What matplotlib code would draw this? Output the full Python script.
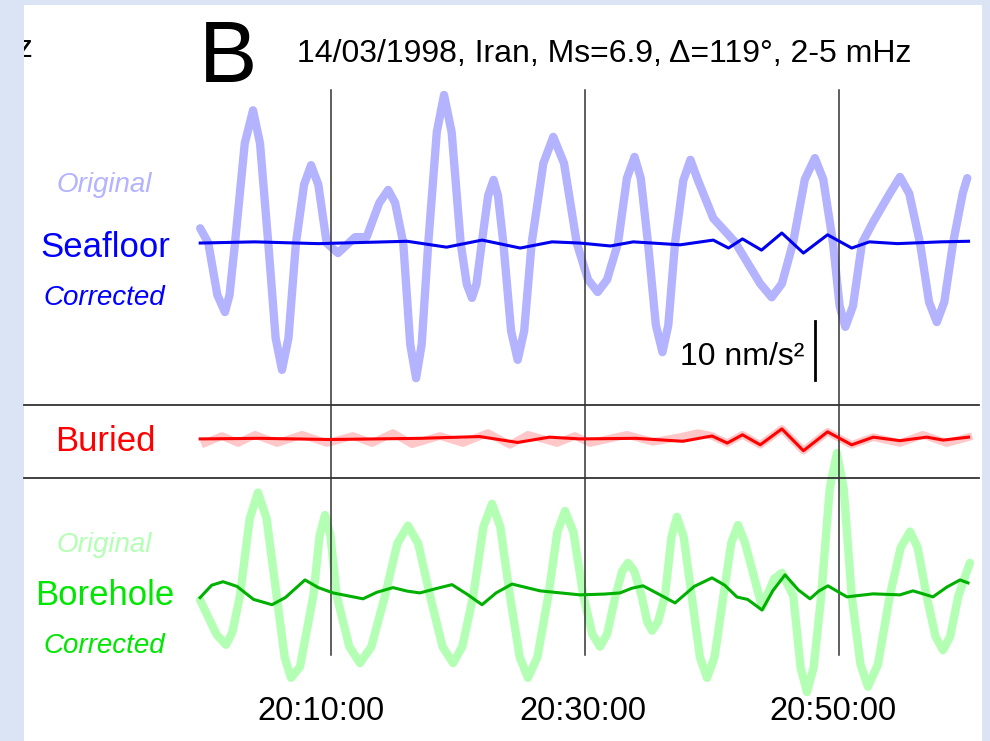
import matplotlib.pyplot as plt
from matplotlib.patches import Rectangle
import numpy as np

plt.rcParams['font.family'] = ['Liberation Sans', 'DejaVu Sans']

sea_orig_t = [-0.3, 0.34, 1.05, 1.65, 2.01, 2.44, 3.21, 3.86, 4.41, 5.06, 5.64, 6.14,
              6.65, 7.24, 7.88, 8.43, 9.0, 9.66, 10.55, 11.9, 12.8, 13.8, 14.5, 15.05,
              15.69, 16.24, 16.7, 17.14, 17.66, 18.33, 18.9, 19.5, 20.21, 20.69, 21.1,
              21.45, 21.87, 22.37, 22.8, 23.15, 23.57, 24.18, 24.7, 25.21, 25.8, 26.72,
              27.5, 28.35, 29.35, 30.24, 31.0, 31.74, 32.6, 33.3, 33.9, 34.39, 34.96,
              35.58, 36.1, 36.56, 37.09, 37.74, 38.3, 38.9, 40.1, 41.8, 43.8, 44.7,
              45.5, 46.38, 47.31, 48.1, 48.76, 49.53, 50.05, 50.5, 51.1, 51.81, 52.7,
              54.0, 54.8, 55.53, 56.38, 57.09, 57.7, 58.29, 58.98, 59.75, 60.1]
sea_orig_v = [2.5, 0, -8.8, -11.7, -8.8, 0, 16.9, 22.5, 16.9, 0, -16.1, -21.5,
              -16.1, 0, 9.9, 13.2, 9.9, 0, -1.7, 1.0, 1.0, 6.8, 9.0, 6.8,
              0, -17.2, -22.9, -17.2, 0, 18.8, 25.1, 18.8, 0, -7.0, -9.3,
              -7.0, 0, 8.0, 10.7, 8.0, 0, -14.9, -19.8, -14.9, 0, 13.5,
              18.0, 13.5, 0, -6.2, -8.3, -6.2, 0, 11.0, 14.6, 11.0, 0,
              -13.9, -18.5, -13.9, 0, 10.6, 14.1, 10.6, 4.2, 0.2, -6.9, -9.2,
              -6.9, 0, 10.8, 14.4, 10.8, 0, -10.7, -14.2, -10.7, 0, 3.6,
              8.4, 11.2, 8.4, 0, -10.0, -13.4, -10.0, 0, 8.5, 11.0]

sea_corr_t = [-0.3, 4.0, 9.0, 16.0, 19.1, 21.9, 24.9, 27.4, 29.6, 32.0, 33.8, 37.5,
              40.1, 41.3, 42.4, 43.9, 45.5, 47.2, 49.1, 51.0, 52.4, 54.6, 58.0, 60.2]
sea_corr_v = [0, 0.2, -0.1, 0.3, -0.7, 0.5, -0.85, 0.2, 0, -0.5, 0.2, -0.3,
              0.5, -0.85, 0.7, -1.2, 1.7, -1.7, 1.4, -0.85, 0.2, -0.1, 0.2, 0.3]

bur_orig_t = [0.08, 1.42, 2.68, 4.02, 5.75, 7.72, 9.69, 11.73, 13.23, 14.88, 16.38,
              18.58, 20.39, 22.36, 24.09, 25.51, 27.8, 29.2, 30.4, 33.3, 35.35, 37.48,
              38.9, 40.0, 41.2, 42.4, 43.8, 45.5, 47.2, 49.1, 51.0, 52.7, 54.8, 56.6,
              58.5, 60.2]
bur_orig_v = [-0.7, 0.5, -0.7, 0.7, -0.7, 0.7, -0.7, 0.5, -0.7, 1.0, -0.9,
              0.5, -0.7, 1.0, -1.0, 0.7, -0.7, 0.5, -0.7, 0.7, -0.5, 0.3,
              1.0, 0.5, -0.7, 0.7, -1.0, 1.7, -2.0, 1.2, -1.0, 0.3, -0.7, 0.7,
              -0.7, 0.3]

bur_corr_t = [-0.3, 4.4, 9.9, 17.0, 21.7, 24.7, 27.2, 29.6, 34.0, 37.7, 40.0, 41.2,
              42.4, 43.8, 45.5, 47.2, 49.1, 51.0, 52.7, 54.8, 56.9, 58.2, 60.2]
bur_corr_v = [0, 0.1, -0.1, 0.1, 0.4, -0.6, 0.3, 0, 0.1, -0.4, 0.5, -0.7,
              0.7, -1.0, 1.7, -2.0, 1.2, -1.0, 0.3, -0.3, 0.3, -0.2, 0.3]

bore_orig_t = [-0.31, 1.0, 1.73, 2.23, 2.83, 3.6, 4.25, 4.93, 5.72, 6.35, 6.85, 7.56,
               8.61, 9.11, 9.53, 9.95, 10.45, 11.44, 12.28, 13.18, 14.25, 15.23, 16.06,
               16.86, 17.8, 18.78, 19.61, 20.34, 21.2, 22.0, 22.68, 23.33, 24.09, 24.86,
               25.51, 26.25, 27.11, 27.82, 28.43, 29.09, 29.87, 30.58, 31.18, 31.74,
               32.4, 32.93, 33.39, 33.88, 34.46, 34.9, 35.28, 35.75, 36.3, 36.81, 37.24,
               37.77, 38.4, 39.05, 39.61, 40.2, 40.9, 41.52, 42.05, 42.6, 43.94, 44.9,
               45.51, 46.4, 46.98, 47.48, 48.0, 48.6, 49.27, 49.84, 50.37, 51.0, 51.69,
               52.28, 53.07, 54.0, 54.86, 55.59, 56.19, 56.9, 57.6, 58.19, 58.75, 59.4,
               60.31]
bore_orig_v = [-0.7, -6.6, -8.3, -6.2, 0, 13.1, 17.5, 13.1, 0, -10.4, -13.9, -12.0,
               0, 10.3, 13.7, 10.3, 0, -8.6, -11.4, -8.6, 0, 8.9, 11.9,
               8.9, 0, -8.6, -11.4, -8.6, 0, 11.7, 15.6, 11.7, 0, -10.4,
               -13.9, -10.4, 0, 10.8, 14.4, 10.8, 0, -6.5, -8.6, -6.5,
               0, 4.2, 5.6, 4.2, 0, -4.4, -5.9, -4.4, 0, 10.0, 13.4,
               10.0, 0, -10.4, -13.9, -10.4, 0, 9.0, 12.0, 9.0, -1.9, 2.9,
               3.9, 0, -12.2, -16.3, -12.2, 0, 18.2, 24.2, 18.2, 0, -11.6,
               -15.4, -11.6, 0, 8.2, 10.9, 8.2, 0, -6.9, -9.2, -6.9, 0,
               5.6]

bore_corr_t = [-0.31, 0.6, 1.5, 2.6, 3.9, 5.35, 6.4, 7.95, 9.0, 10.16, 12.52, 13.6,
               14.88, 16.0, 17.0, 18.4, 19.53, 20.7, 21.89, 23.0, 24.25, 25.4, 26.46,
               29.6, 31.5, 32.76, 33.7, 34.57, 35.8, 37.09, 38.6, 40.0, 41.0, 41.97,
               42.8, 43.94, 44.8, 45.75, 46.8, 47.72, 48.4, 49.13, 50.0, 50.63, 52.68,
               54.8, 55.83, 57.4, 58.5, 59.53, 60.16]
bore_corr_v = [-0.3, 1.8, 2.4, 1.6, -0.6, -1.5, -0.3, 2.7, 1.4, 0.5, -0.5, 0.6,
               1.4, 0.8, 0.5, 1.3, 1.9, 0.3, -1.5, 0.5, 2.0, 1.4, 0.85,
               0.17, 0.3, 0.5, 1.3, 1.7, 0.3, -1.2, 1.6, 3.05, 1.8, -0.2,
               -0.6, -2.4, 0.9, 3.56, 1.0, -0.5, 0.8, 1.7, 0.6, -0.17, 0.34,
               0.17, 0.85, -0.17, 1.5, 2.7, 2.2]

tick_minutes = [10, 30, 50]
tick_labels = ['20:10:00', '20:30:00', '20:50:00']

# trace baselines on the shared vertical scale (nm/s^2)
sea_off, bur_off, bore_off = 84.4, 51.2, 24.6

W, H = 990, 741


def fx(px):
    return px / W


def fy(py):
    return 1 - py / H


fig = plt.figure(figsize=(9.9, 7.41), dpi=100)
fig.patch.set_facecolor('#dbe4f4')
panel = Rectangle((fx(24), 0), fx(982) - fx(24), fy(5), transform=fig.transFigure,
                  facecolor='white', edgecolor='none', zorder=-1)
fig.patches.append(panel)

ax = fig.add_axes([0, 0, 1, 1])
ax.set_zorder(1)
ax.set_xlim(-204 / 12.7, (W - 204) / 12.7)
ax.set_ylim(0, H / 5.9)
ax.axis('off')

# originals (thick, pale)
ax.plot(sea_orig_t, np.array(sea_orig_v) + sea_off, color='#b3b3ff', lw=6,
        solid_joinstyle='round', solid_capstyle='round', zorder=1)
ax.plot(bur_orig_t, np.array(bur_orig_v) + bur_off, color='#ff9999', lw=5.5,
        alpha=0.55, solid_joinstyle='round', zorder=1)
ax.plot(bore_orig_t, np.array(bore_orig_v) + bore_off, color='#b3ffb3', lw=6,
        solid_joinstyle='round', solid_capstyle='round', zorder=1)

# separators and time marks
for m in tick_minutes:
    ax.plot([m, m], [14.6, 110.3], color='#333333', lw=1.1, zorder=2)
for y in [56.95, 44.58]:
    ax.plot([-14.17, 61.02], [y, y], color='#333333', lw=1.3, zorder=2)

# corrected traces
ax.plot(sea_corr_t, np.array(sea_corr_v) + sea_off, color='#0000ee', lw=2.2,
        solid_joinstyle='round', zorder=3)
ax.plot(bur_corr_t, np.array(bur_corr_v) + bur_off, color='#ff0000', lw=2.2,
        solid_joinstyle='round', zorder=3)
ax.plot(bore_corr_t, np.array(bore_corr_v) + bore_off, color='#00b000', lw=2.2,
        solid_joinstyle='round', zorder=3)

# scale bar 10 nm/s^2
ax.plot([48.1, 48.1], [61.2, 71.2], color='black', lw=2, zorder=3)
fig.text(fx(804), fy(365), '10 nm/s²', fontsize=23, ha='right', va='baseline')

for m, lab, dx in zip(tick_minutes, tick_labels, [-10, -2, -6]):
    ax.annotate(lab, (m, (H - 720) / 5.9), xytext=(dx * 0.72, 0), textcoords='offset points',
                fontsize=23.5, ha='center', va='baseline')

fig.text(fx(199), fy(82), 'B', fontsize=63, ha='left', va='baseline')
fig.text(fx(297), fy(62), '14/03/1998, Iran, Ms=6.9, Δ=119°, 2-5 mHz', fontsize=23,
         ha='left', va='baseline')
t = fig.text(fx(34), fy(57), 'mHz', fontsize=23, ha='right', va='baseline')
t.set_clip_path(panel)

fig.text(fx(104), fy(192), 'Original', fontsize=20, style='italic', color='#b3b3ff',
         ha='center', va='baseline')
fig.text(fx(105), fy(257), 'Seafloor', fontsize=25, color='#0000ff', ha='center', va='baseline')
fig.text(fx(104), fy(305), 'Corrected', fontsize=20, style='italic', color='#0000ff',
         ha='center', va='baseline')
fig.text(fx(105), fy(451), 'Buried', fontsize=25, color='#ff0000', ha='center', va='baseline')
fig.text(fx(104), fy(552), 'Original', fontsize=20, style='italic', color='#b3ffb3',
         ha='center', va='baseline')
fig.text(fx(105), fy(605), 'Borehole', fontsize=25, color='#00e600', ha='center', va='baseline')
fig.text(fx(104), fy(653), 'Corrected', fontsize=20, style='italic', color='#00e600',
         ha='center', va='baseline')

fig.savefig('out.png', dpi=100, facecolor=fig.get_facecolor())
